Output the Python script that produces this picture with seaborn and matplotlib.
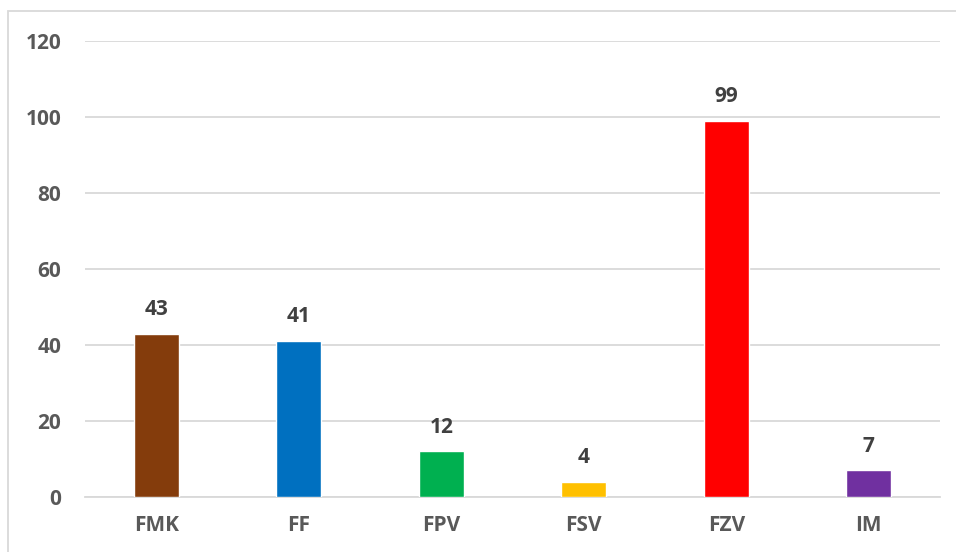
import matplotlib
matplotlib.use("Agg")
import matplotlib.pyplot as plt
import seaborn as sns
import pandas as pd
from matplotlib.patches import Rectangle

categories = ["FMK", "FF", "FPV", "FSV", "FZV", "IM"]
values = [43, 41, 12, 4, 99, 7]
colors = ["#843C0C", "#0070C0", "#00B050", "#FFC000", "#FF0000", "#7030A0"]
yticks = [0, 20, 40, 60, 80, 100, 120]

sns.set_theme(style="white")
plt.rcParams["font.family"] = ["Open Sans", "DejaVu Sans"]

df = pd.DataFrame({"cat": categories, "val": values})

fig = plt.figure(figsize=(9.56, 5.52), dpi=100)
ax = fig.add_axes([85/956, 1 - 497/552, (940-85)/956, (497-41)/552])

sns.barplot(data=df, x="cat", y="val", hue="cat", palette=colors, legend=False,
            width=0.315, ax=ax, saturation=1, zorder=3)

ax.set_ylim(0, 120)
ax.set_xlim(-0.5, len(categories) - 0.5)
ax.set_yticks(yticks)
ax.yaxis.grid(True, color="#D9D9D9", linewidth=1.3, zorder=0)
ax.xaxis.grid(False)
for s in ["top", "right", "left"]:
    ax.spines[s].set_visible(False)
ax.spines["bottom"].set_color("#D9D9D9")
ax.spines["bottom"].set_linewidth(1.3)
ax.tick_params(axis="both", length=0, labelsize=15, labelcolor="#595959")
ax.tick_params(axis="y", pad=17)
ax.tick_params(axis="x", pad=13)
for lab in ax.get_xticklabels() + ax.get_yticklabels():
    lab.set_fontweight("bold")
ax.set_xlabel("")
ax.set_ylabel("")

for i, v in enumerate(values):
    ax.annotate(str(v), (i, v), xytext=(0, 10), textcoords="offset points",
                ha="center", va="bottom", fontsize=15, fontweight="bold",
                color="#404040")

fig.patches.append(Rectangle((7.5/956, -0.1), 1.2, 1 - 10.5/552 + 0.1,
                             transform=fig.transFigure, fill=False,
                             edgecolor="#D9D9D9", linewidth=1.3))

fig.savefig("out.png", dpi=100)
